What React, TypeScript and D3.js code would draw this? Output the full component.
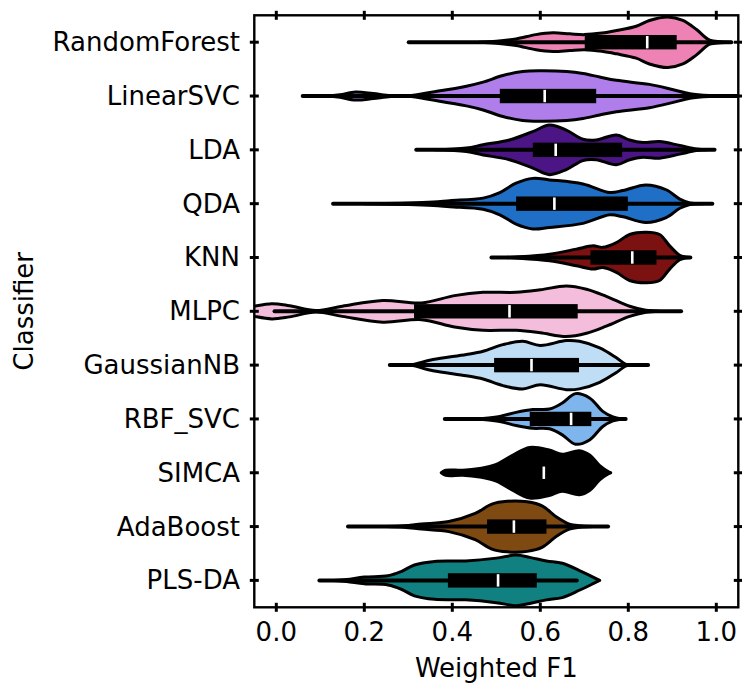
import React from "react";
import * as d3 from "d3";

// classifiers, top to bottom
const classifiers = ["RandomForest", "LinearSVC", "LDA", "QDA", "KNN", "MLPC", "GaussianNB", "RBF_SVC", "SIMCA", "AdaBoost", "PLS-DA"];
const colors = ["#ee82b5", "#b07eeb", "#4b1586", "#1f6fc6", "#7b1111", "#f5bddc", "#bfddf5", "#7eb5ec", "#000000", "#7e4a12", "#108080"];

// inner box stats
const q1s = [0.701, 0.508, 0.583, 0.545, 0.714, 0.313, 0.495, 0.576, 0.55, 0.479, 0.39];
const medians = [0.843, 0.61, 0.635, 0.632, 0.809, 0.53, 0.58, 0.67, 0.608, 0.54, 0.504];
const q3s = [0.91, 0.727, 0.786, 0.799, 0.864, 0.685, 0.688, 0.716, 0.67, 0.614, 0.592];
const whiskerLo = [0.301, 0.06, 0.318, 0.129, 0.489, -0.004, 0.258, 0.383, 0.383, 0.163, 0.098];
const whiskerHi = [1.034, 1.08, 0.996, 0.991, 0.941, 0.92, 0.845, 0.794, 0.756, 0.754, 0.683];

// violin outlines: [F1 value, relative half-width]
const densities: [number, number][][] = [
  [[0.46, 0], [0.5, 0.04], [0.545, 0.13], [0.59, 0.3], [0.629, 0.37], [0.667, 0.33], [0.7, 0.3], [0.74, 0.36], [0.773, 0.46], [0.818, 0.63], [0.848, 0.86], [0.89, 1.0], [0.924, 0.86], [0.955, 0.5], [0.985, 0.08], [1.01, 0.02], [1.035, 0]],
  [[0.12, 0], [0.145, 0.05], [0.18, 0.16], [0.22, 0.1], [0.26, 0.02], [0.3, 0.01], [0.356, 0.16], [0.432, 0.39], [0.47, 0.55], [0.515, 0.81], [0.56, 0.97], [0.6, 1.0], [0.66, 0.97], [0.697, 0.89], [0.735, 0.75], [0.773, 0.62], [0.848, 0.46], [0.9, 0.26], [0.94, 0.09], [0.985, 0.02], [1.06, 0]],
  [[0.36, 0], [0.432, 0.07], [0.47, 0.2], [0.53, 0.39], [0.583, 0.72], [0.621, 0.98], [0.659, 0.78], [0.697, 0.42], [0.727, 0.39], [0.773, 0.59], [0.803, 0.39], [0.833, 0.29], [0.871, 0.33], [0.917, 0.17], [0.955, 0.03], [0.98, 0]],
  [[0.2, 0], [0.3, 0.03], [0.357, 0.07], [0.394, 0.12], [0.47, 0.22], [0.508, 0.44], [0.545, 0.81], [0.583, 1.0], [0.621, 0.94], [0.697, 0.78], [0.758, 0.44], [0.788, 0.52], [0.84, 0.74], [0.886, 0.55], [0.917, 0.18], [0.94, 0.03], [0.97, 0]],
  [[0.52, 0], [0.545, 0.02], [0.621, 0.13], [0.682, 0.33], [0.72, 0.46], [0.742, 0.4], [0.773, 0.59], [0.803, 0.91], [0.841, 1.0], [0.871, 0.91], [0.894, 0.46], [0.917, 0.09], [0.94, 0]],
  [[-0.07, 0.12], [-0.05, 0.2], [-0.01, 0.3], [0.03, 0.22], [0.09, 0.03], [0.15, 0.2], [0.242, 0.43], [0.33, 0.33], [0.405, 0.62], [0.47, 0.75], [0.545, 0.75], [0.6, 0.85], [0.659, 1.0], [0.705, 0.87], [0.75, 0.59], [0.803, 0.2], [0.84, 0.04], [0.87, 0]],
  [[0.29, 0], [0.31, 0.02], [0.356, 0.22], [0.432, 0.42], [0.47, 0.55], [0.515, 0.81], [0.56, 0.94], [0.6, 0.78], [0.659, 0.97], [0.689, 0.94], [0.735, 0.68], [0.773, 0.29], [0.795, 0.03], [0.82, 0]],
  [[0.45, 0], [0.47, 0.02], [0.508, 0.1], [0.545, 0.26], [0.583, 0.37], [0.621, 0.39], [0.65, 0.63], [0.68, 1.0], [0.712, 0.83], [0.742, 0.3], [0.765, 0.08], [0.785, 0]],
  [[0.375, 0], [0.385, 0.1], [0.424, 0.1], [0.462, 0.17], [0.5, 0.33], [0.538, 0.7], [0.576, 1.0], [0.62, 0.9], [0.65, 0.73], [0.689, 0.87], [0.712, 0.7], [0.735, 0.28], [0.756, 0.03], [0.76, 0]],
  [[0.25, 0], [0.29, 0.03], [0.33, 0.1], [0.392, 0.2], [0.452, 0.52], [0.49, 0.89], [0.525, 1.0], [0.57, 0.98], [0.605, 0.81], [0.636, 0.39], [0.666, 0.1], [0.69, 0.03], [0.72, 0]],
  [[0.13, 0], [0.16, 0.04], [0.2, 0.13], [0.254, 0.18], [0.284, 0.35], [0.314, 0.61], [0.36, 0.75], [0.43, 0.77], [0.5, 0.88], [0.545, 1.0], [0.576, 0.91], [0.614, 0.77], [0.65, 0.68], [0.69, 0.38], [0.72, 0.13], [0.735, 0]],
];

const xTicks = [0.0, 0.2, 0.4, 0.6, 0.8, 1.0];

const width = 742;
const height = 684;
const margin = { top: 15.3, right: 3.7, bottom: 76.7, left: 254.3 };
const font = "DejaVu Sans, sans-serif";

export default function App() {
  const x = d3.scaleLinear().domain([-0.05, 1.05]).range([margin.left, width - margin.right]);
  const y = d3.scaleBand<string>().domain(classifiers).range([margin.top, height - margin.bottom]).padding(0);
  const hw = y.bandwidth() * 0.47;

  const x0 = margin.left;
  const x1 = width - margin.right;
  const y0 = margin.top;
  const y1 = height - margin.bottom;

  return (
    <svg width={width} height={height} style={{ position: "absolute", left: 0, top: 0, background: "#fff" }}>
      <defs>
        <clipPath id="plot">
          <rect x={x0} y={y0} width={x1 - x0} height={y1 - y0} />
        </clipPath>
      </defs>
      <g clipPath="url(#plot)">
        {classifiers.map((c, i) => {
          const cy = (y(c) as number) + y.bandwidth() / 2;
          const area = d3
            .area<[number, number]>()
            .x((d) => x(d[0]))
            .y0((d) => cy - d[1] * hw)
            .y1((d) => cy + d[1] * hw)
            .curve(d3.curveCatmullRom);
          return (
            <g key={c}>
              <path d={area(densities[i]) || ""} fill={colors[i]} stroke="#000" strokeWidth={3} strokeLinejoin="round" />
              <line x1={x(whiskerLo[i])} x2={x(whiskerHi[i])} y1={cy} y2={cy} stroke="#000" strokeWidth={4} strokeLinecap="round" />
              <rect x={x(q1s[i])} y={cy - 7.2} width={x(q3s[i]) - x(q1s[i])} height={14.4} fill="#000" />
              <rect x={x(medians[i]) - 1.3} y={cy - 6.2} width={2.6} height={12.4} fill="#fff" />
            </g>
          );
        })}
      </g>

      {/* spines */}
      <rect x={x0} y={y0} width={x1 - x0} height={y1 - y0} fill="none" stroke="#000" strokeWidth={2.4} />

      {/* x ticks, bottom and top */}
      {xTicks.map((t) => (
        <g key={t}>
          <line x1={x(t)} x2={x(t)} y1={y1 - 4.5} y2={y1 + 4.5} stroke="#000" strokeWidth={3} />
          <line x1={x(t)} x2={x(t)} y1={y0 - 4.5} y2={y0 + 4.5} stroke="#000" strokeWidth={3} />
          <text x={x(t)} y={641} textAnchor="middle" fontFamily={font} fontSize={26}>
            {t.toFixed(1)}
          </text>
        </g>
      ))}

      {/* y ticks, left and right */}
      {classifiers.map((c) => {
        const cy = (y(c) as number) + y.bandwidth() / 2;
        return (
          <g key={c}>
            <line x1={x0 - 4.5} x2={x0 + 4.5} y1={cy} y2={cy} stroke="#000" strokeWidth={3} />
            <line x1={x1 - 4.5} x2={x1 + 4.5} y1={cy} y2={cy} stroke="#000" strokeWidth={3} />
            <text x={240} y={cy} textAnchor="end" dominantBaseline="central" fontFamily={font} fontSize={26}>
              {c}
            </text>
          </g>
        );
      })}

      <text x={(x0 + x1) / 2} y={677} textAnchor="middle" fontFamily={font} fontSize={26}>
        Weighted F1
      </text>
      <text transform={`translate(33, ${(y0 + y1) / 2}) rotate(-90)`} textAnchor="middle" fontFamily={font} fontSize={26}>
        Classifier
      </text>
    </svg>
  );
}
